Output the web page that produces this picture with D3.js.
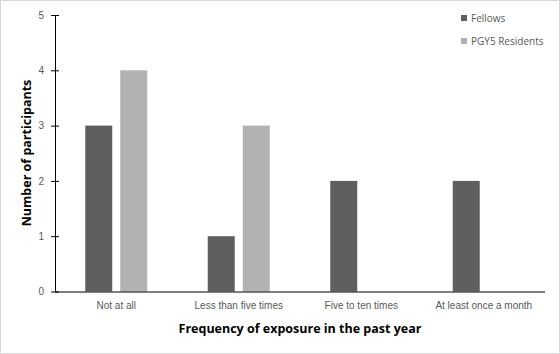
<!DOCTYPE html>
<html>
<head>
<meta charset="utf-8">
<script src="https://cdn.jsdelivr.net/npm/d3@7"></script>
<style>
  body { margin: 0; background: #fff; }
  svg { display: block; font-family: "Open Sans", "Liberation Sans", sans-serif; }
  .tick text { fill: #595959; font-size: 10px; }
  .tick line, .domain { stroke: #000; }
</style>
</head>
<body>
<svg width="560" height="354"></svg>
<script>
// data
var categories = ["Not at all", "Less than five times", "Five to ten times", "At least once a month"];
var seriesNames = ["Fellows", "PGY5 Residents"];
var fellows = [3, 1, 2, 2];
var residents = [4, 3, 0, 0];
var yTicks = [0, 1, 2, 3, 4, 5];
var colors = ["#5f5f5f", "#b2b2b2"];

var svg = d3.select("svg"),
    margin = {top: 15, right: 15, bottom: 62, left: 55},
    width = +svg.attr("width") - margin.left - margin.right,
    height = 291.5 - margin.top;

// light outer frame
svg.append("rect")
    .attr("x", 0.5).attr("y", 0.5)
    .attr("width", 559).attr("height", 353)
    .attr("fill", "#fff")
    .attr("stroke", "#d9d9d9");

var values = [fellows, residents];

var x0 = d3.scaleBand().domain(categories).range([0, width]);
var x1 = d3.scaleBand().domain(seriesNames).range([0, 62]).paddingInner(0.229);
var y = d3.scaleLinear().domain([0, 5]).range([height, 0]);

var g = svg.append("g")
    .attr("transform", "translate(" + margin.left + "," + margin.top + ")");

var groupOffset = (x0.bandwidth() - 62) / 2;

// bars
seriesNames.forEach(function(s, i) {
  g.selectAll(".bar-" + i)
    .data(categories.map(function(c, j) { return {cat: c, v: values[i][j]}; }))
    .enter().append("rect")
      .attr("class", "bar-" + i)
      .attr("x", function(d) { return x0(d.cat) + groupOffset + x1(s); })
      .attr("y", function(d) { return y(d.v); })
      .attr("width", x1.bandwidth())
      .attr("height", function(d) { return height - y(d.v); })
      .attr("fill", colors[i]);
});

// y axis with crossing ticks
var yAxis = g.append("g")
    .call(d3.axisLeft(y).tickValues(yTicks).tickSize(4).tickPadding(7).tickFormat(d3.format("d")));
yAxis.selectAll(".tick line").attr("x1", -4).attr("x2", 4);
yAxis.select(".domain").attr("d", "M0.5," + height + "V0");

// x axis
var xAxis = g.append("g")
    .attr("transform", "translate(0," + height + ")")
    .call(d3.axisBottom(x0).tickSize(0).tickPadding(10));
xAxis.select(".domain").attr("d", "M0,0.5H" + width);

// axis titles
svg.append("text")
    .attr("x", 300)
    .attr("y", 333)
    .attr("text-anchor", "middle")
    .style("font-size", "12.5px")
    .style("font-weight", "bold")
    .text("Frequency of exposure in the past year");

svg.append("text")
    .attr("transform", "translate(31,153) rotate(-90)")
    .attr("text-anchor", "middle")
    .style("font-size", "12.5px")
    .style("font-weight", "bold")
    .text("Number of participants");

// legend
var legend = svg.append("g").attr("transform", "translate(461,15)");
seriesNames.forEach(function(s, i) {
  var row = legend.append("g").attr("transform", "translate(0," + (i * 23) + ")");
  row.append("rect").attr("x", 0).attr("y", 0).attr("width", 6).attr("height", 6).attr("fill", colors[i]);
  row.append("text").attr("x", 10).attr("y", 7)
      .style("font-size", "10px").attr("fill", "#595959").text(s);
});
</script>
</body>
</html>
